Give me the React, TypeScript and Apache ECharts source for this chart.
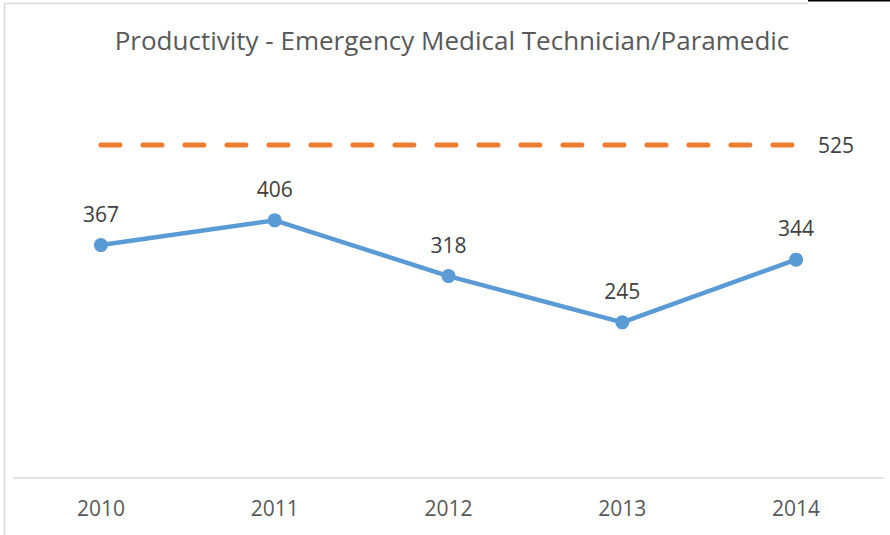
import React, { useEffect, useRef } from "react";
import * as echarts from "echarts";

const years = ["2010", "2011", "2012", "2013", "2014"];
const productivity = [367, 406, 318, 245, 344];
const target = [525, 525, 525, 525, 525];
const titleText = "Productivity - Emergency Medical Technician/Paramedic";

export default function App() {
  const ref = useRef<HTMLDivElement>(null);
  useEffect(() => {
    const chart = echarts.init(ref.current!, null, { renderer: "svg" });
    const font = "'Open Sans', 'Noto Sans', sans-serif";
    chart.setOption({
      animation: false,
      backgroundColor: "#ffffff",
      title: {
        text: titleText,
        left: 447,
        textAlign: "center",
        top: 22,
        textStyle: { fontFamily: font, fontSize: 26, fontWeight: "normal", color: "#595959" },
      },
      grid: { left: 14, right: 7, top: 97.5, bottom: 57.5, containLabel: false },
      xAxis: {
        type: "category",
        data: years,
        boundaryGap: true,
        axisLine: { lineStyle: { color: "#D9D9D9", width: 1.5 } },
        axisTick: { show: false },
        axisLabel: { fontFamily: font, fontSize: 21, color: "#595959", margin: 20 },
      },
      yAxis: {
        type: "value",
        min: 0,
        max: 600,
        show: false,
        splitLine: { show: false },
      },
      series: [
        {
          type: "line",
          data: target,
          symbol: "none",
          silent: true,
          lineStyle: { color: "#ED7D31", width: 5, type: [19, 23], cap: "round" },
          label: { show: false },
          endLabel: {
            show: true,
            distance: 22,
            fontFamily: font,
            fontSize: 21,
            color: "#404040",
            formatter: (p: any) => String(p.value),
          },
        },
        {
          type: "line",
          data: productivity,
          symbol: "circle",
          symbolSize: 14,
          itemStyle: { color: "#5B9BD5" },
          lineStyle: { color: "#5B9BD5", width: 4.5 },
          label: {
            show: true,
            position: "top",
            distance: 14,
            fontFamily: font,
            fontSize: 21,
            color: "#404040",
          },
        },
      ],
      graphic: [
        { type: "line", shape: { x1: 4.5, y1: 3.5, x2: 808, y2: 3.5 }, style: { stroke: "#D9D9D9", lineWidth: 1.5 } },
        { type: "line", shape: { x1: 4.5, y1: 3.5, x2: 4.5, y2: 535 }, style: { stroke: "#D9D9D9", lineWidth: 1.5 } },
        { type: "rect", shape: { x: 808, y: 0, width: 82, height: 1.5 }, style: { fill: "#000000" } },
      ],
    });
    return () => chart.dispose();
  }, []);
  return (
    <div
      ref={ref}
      style={{ position: "fixed", left: 0, top: 0, width: 890, height: 535 }}
    />
  );
}
